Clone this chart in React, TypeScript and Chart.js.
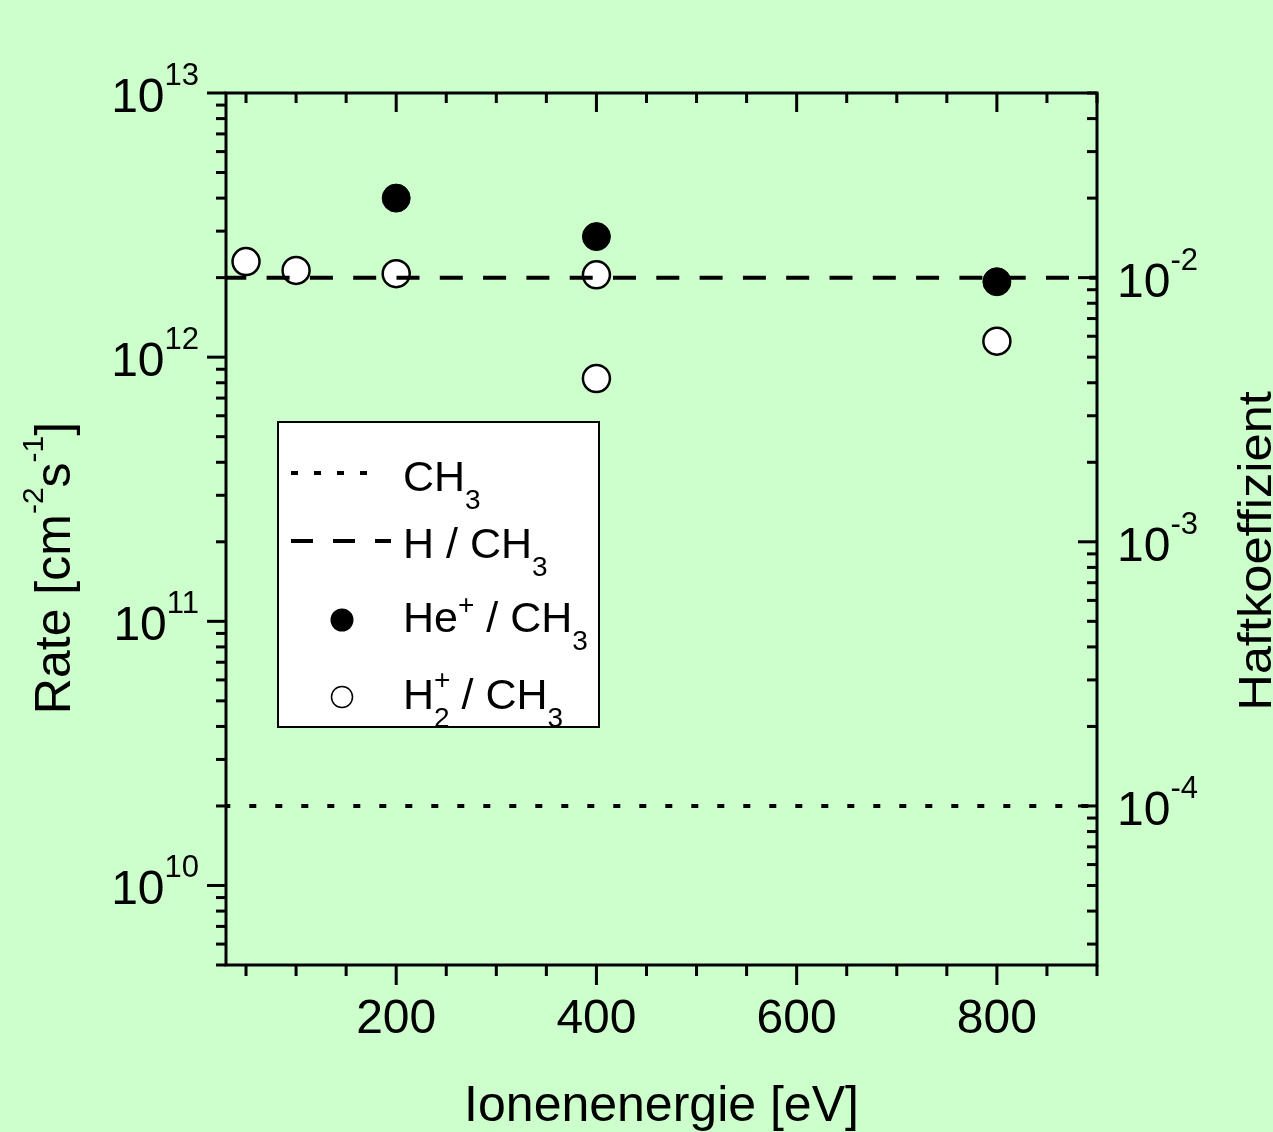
import React, { useEffect, useRef } from "react";
import { Chart, registerables } from "chart.js";

Chart.register(...registerables);

const W = 1273;
const H = 1132;
const FONT = '"Liberation Sans", Arial, Helvetica, sans-serif';
const BG = "#ccffcc";

// ---- data ----
const lineEnergy = [30, 900];
const ch3Haft = [1e-4, 1e-4];
const hCh3Haft = [1e-2, 1e-2];
const heEnergy = [200, 400, 800];
const heRate = [4.0e12, 2.86e12, 1.93e12];
const h2Energy = [50, 100, 200, 400, 400, 800];
const h2Rate = [2.3e12, 2.13e12, 2.07e12, 2.05e12, 0.83e12, 1.15e12];

// ---- axes / ticks ----
const xMin = 30;
const xMax = 900;
const rateMin = 5e9;
const rateMax = 1e13;
const haftMin = 2.5e-5;
const haftMax = 0.05;
const xMajorTicks = [200, 400, 600, 800];
const xMinorTicks = [50, 100, 150, 250, 300, 350, 450, 500, 550, 650, 700, 750, 850, 900];
const rateExponents = [10, 11, 12, 13];
const haftExponents = [-4, -3, -2];
const xTitle = "Ionenenergie [eV]";
const rightTitle = "Haftkoeffizient";

type Part = { t: string; s: number; dy?: number; adv?: boolean };

function setFont(ctx: CanvasRenderingContext2D, s: number) {
  ctx.font = `${s}px ${FONT}`;
}

function richWidth(ctx: CanvasRenderingContext2D, parts: Part[]) {
  let w = 0;
  for (const p of parts) {
    if (p.adv === false) continue;
    setFont(ctx, p.s);
    w += ctx.measureText(p.t).width;
  }
  return w;
}

function drawRich(
  ctx: CanvasRenderingContext2D,
  parts: Part[],
  x: number,
  y: number,
  align: "left" | "center" | "right" = "left"
) {
  const w = richWidth(ctx, parts);
  let cx = align === "left" ? x : align === "center" ? x - w / 2 : x - w;
  ctx.textAlign = "left";
  ctx.textBaseline = "alphabetic";
  for (const p of parts) {
    setFont(ctx, p.s);
    ctx.fillText(p.t, cx, y + (p.dy || 0));
    if (p.adv !== false) cx += ctx.measureText(p.t).width;
  }
}

function logMinors(min: number, max: number) {
  const out: number[] = [];
  const lo = Math.floor(Math.log10(min));
  const hi = Math.ceil(Math.log10(max));
  for (let e = lo; e <= hi; e++) {
    for (let m = 2; m <= 9; m++) {
      const v = m * Math.pow(10, e);
      if (v >= min * 0.999 && v <= max * 1.001) out.push(v);
    }
  }
  return out;
}

const LF = 43;
const LS = 28;
const legendEntries: { kind: string; parts: Part[]; sy: number; ty: number }[] = [
  { kind: "dot", parts: [{ t: "CH", s: LF }, { t: "3", s: LS, dy: 18 }], sy: 473, ty: 491 },
  { kind: "dash", parts: [{ t: "H / CH", s: LF }, { t: "3", s: LS, dy: 18 }], sy: 541, ty: 558 },
  {
    kind: "filled",
    parts: [
      { t: "He", s: LF },
      { t: "+", s: LS, dy: -18 },
      { t: " / CH", s: LF },
      { t: "3", s: LS, dy: 18 },
    ],
    sy: 620,
    ty: 632,
  },
  {
    kind: "open",
    parts: [
      { t: "H", s: LF },
      { t: "+", s: LS, dy: -20, adv: false },
      { t: "2", s: LS, dy: 18 },
      { t: " / CH", s: LF },
      { t: "3", s: LS, dy: 18 },
    ],
    sy: 697,
    ty: 709,
  },
];

const decorPlugin = {
  id: "decor",
  beforeDraw(chart: any) {
    const ctx = chart.ctx as CanvasRenderingContext2D;
    ctx.save();
    ctx.fillStyle = BG;
    ctx.fillRect(0, 0, chart.width, chart.height);
    ctx.restore();
  },
  afterDraw(chart: any) {
    const ctx = chart.ctx as CanvasRenderingContext2D;
    const a = chart.chartArea;
    const xs = chart.scales.x;
    const ys = chart.scales.y;
    const y2 = chart.scales.y2;
    ctx.save();
    ctx.strokeStyle = "#000";
    ctx.fillStyle = "#000";
    ctx.lineWidth = 3;
    ctx.lineCap = "butt";
    ctx.setLineDash([]);

    const line = (x1: number, y1: number, x2: number, y2_: number) => {
      ctx.beginPath();
      ctx.moveTo(x1, y1);
      ctx.lineTo(x2, y2_);
      ctx.stroke();
    };

    // frame
    ctx.strokeRect(a.left, a.top, a.right - a.left, a.bottom - a.top);

    // x ticks
    for (const v of xMajorTicks) {
      const px = xs.getPixelForValue(v);
      line(px, a.bottom, px, a.bottom + 20);
      line(px, a.top, px, a.top + 19);
    }
    for (const v of xMinorTicks) {
      const px = xs.getPixelForValue(v);
      line(px, a.bottom, px, a.bottom + 11);
      line(px, a.top, px, a.top + 10);
    }
    // left ticks (outward)
    for (const e of rateExponents) {
      const py = ys.getPixelForValue(Math.pow(10, e));
      line(a.left - 19, py, a.left, py);
    }
    for (const v of logMinors(rateMin, rateMax)) {
      const py = ys.getPixelForValue(v);
      line(a.left - 10, py, a.left, py);
    }
    // right ticks (inward)
    for (const e of haftExponents) {
      const py = y2.getPixelForValue(Math.pow(10, e));
      line(a.right - 19, py, a.right, py);
    }
    for (const v of logMinors(haftMin, haftMax)) {
      const py = y2.getPixelForValue(v);
      line(a.right - 10, py, a.right, py);
    }

    // x labels
    for (const v of xMajorTicks) {
      const px = xs.getPixelForValue(v);
      drawRich(ctx, [{ t: String(v), s: 48 }], px, 1033, "center");
    }
    drawRich(ctx, [{ t: xTitle, s: 50 }], (a.left + a.right) / 2, 1121, "center");

    // left labels
    for (const e of rateExponents) {
      const py = ys.getPixelForValue(Math.pow(10, e));
      drawRich(
        ctx,
        [
          { t: "10", s: 48 },
          { t: String(e), s: 31, dy: -27 },
        ],
        199,
        py + 19,
        "right"
      );
    }
    // right labels
    for (const e of haftExponents) {
      const py = y2.getPixelForValue(Math.pow(10, e));
      drawRich(
        ctx,
        [
          { t: "10", s: 48 },
          { t: String(e), s: 31, dy: -27 },
        ],
        1117,
        py + 19,
        "left"
      );
    }

    // left title
    ctx.save();
    ctx.translate(70, 568);
    ctx.rotate(-Math.PI / 2);
    drawRich(
      ctx,
      [
        { t: "Rate [cm", s: 50 },
        { t: "-2", s: 30, dy: -27 },
        { t: "s", s: 50 },
        { t: "-1", s: 30, dy: -27 },
        { t: "]", s: 50 },
      ],
      0,
      0,
      "center"
    );
    ctx.restore();

    // right title
    ctx.save();
    ctx.translate(1271, 551);
    ctx.rotate(-Math.PI / 2);
    ctx.scale(1.1, 1);
    drawRich(ctx, [{ t: rightTitle, s: 46 }], 0, 0, "center");
    ctx.restore();

    // legend
    const lx = 278;
    const ly = 422;
    const lw = 321;
    const lh = 305;
    ctx.fillStyle = "#fff";
    ctx.fillRect(lx, ly, lw, lh);
    ctx.lineWidth = 2;
    ctx.strokeStyle = "#000";
    ctx.strokeRect(lx, ly, lw, lh);
    ctx.fillStyle = "#000";
    for (const it of legendEntries) {
      if (it.kind === "dot") {
        ctx.lineWidth = 4;
        ctx.setLineDash([7, 16]);
        line(291, it.sy, 378, it.sy);
        ctx.setLineDash([]);
      } else if (it.kind === "dash") {
        ctx.lineWidth = 4;
        ctx.setLineDash([22, 20]);
        line(291, it.sy, 391, it.sy);
        ctx.setLineDash([]);
      } else if (it.kind === "filled") {
        ctx.beginPath();
        ctx.arc(342, it.sy, 11.5, 0, Math.PI * 2);
        ctx.fillStyle = "#000";
        ctx.fill();
      } else {
        ctx.beginPath();
        ctx.arc(342, it.sy, 10.5, 0, Math.PI * 2);
        ctx.fillStyle = "#fff";
        ctx.fill();
        ctx.lineWidth = 1.5;
        ctx.strokeStyle = "#000";
        ctx.stroke();
      }
      ctx.fillStyle = "#000";
      drawRich(ctx, it.parts, 403, it.ty, "left");
    }
    ctx.restore();
  },
};

export default function App() {
  const ref = useRef<HTMLCanvasElement | null>(null);
  useEffect(() => {
    const canvas = ref.current;
    if (!canvas) return;
    const chart = new Chart(canvas, {
      type: "scatter",
      data: {
        datasets: [
          {
            label: "CH3",
            data: lineEnergy.map((x, i) => ({ x, y: ch3Haft[i] })),
            yAxisID: "y2",
            showLine: true,
            borderColor: "#000",
            borderWidth: 4,
            borderDash: [7, 19],
            borderDashOffset: 2.7,
            pointRadius: 0,
            fill: false,
          } as any,
          {
            label: "H / CH3",
            data: lineEnergy.map((x, i) => ({ x, y: hCh3Haft[i] })),
            yAxisID: "y2",
            showLine: true,
            borderColor: "#000",
            borderWidth: 4,
            borderDash: [23, 20.3],
            borderDashOffset: 2.7,
            pointRadius: 0,
            fill: false,
          } as any,
          {
            label: "He+ / CH3",
            data: heEnergy.map((x, i) => ({ x, y: heRate[i] })),
            yAxisID: "y",
            pointRadius: 14,
            pointHoverRadius: 14,
            backgroundColor: "#000",
            borderColor: "#000",
            borderWidth: 1,
          },
          {
            label: "H2+ / CH3",
            data: h2Energy.map((x, i) => ({ x, y: h2Rate[i] })),
            yAxisID: "y",
            pointRadius: 13.5,
            pointHoverRadius: 13.5,
            backgroundColor: "#fff",
            borderColor: "#000",
            borderWidth: 2.5,
          },
        ],
      },
      options: {
        responsive: false,
        maintainAspectRatio: false,
        devicePixelRatio: 1,
        animation: false,
        events: [],
        layout: { padding: { left: 226, top: 93, right: W - 1097, bottom: H - 965 } },
        plugins: {
          legend: { display: false },
          tooltip: { enabled: false },
          title: { display: false },
        },
        scales: {
          x: { type: "linear", min: xMin, max: xMax, display: false },
          y: { type: "logarithmic", min: rateMin, max: rateMax, display: false },
          y2: { type: "logarithmic", position: "right", min: haftMin, max: haftMax, display: false },
        },
      },
      plugins: [decorPlugin],
    });
    return () => chart.destroy();
  }, []);

  return (
    <div style={{ position: "absolute", left: 0, top: 0, width: W, height: H, background: BG }}>
      <canvas ref={ref} width={W} height={H} style={{ display: "block", width: W, height: H }} />
    </div>
  );
}
